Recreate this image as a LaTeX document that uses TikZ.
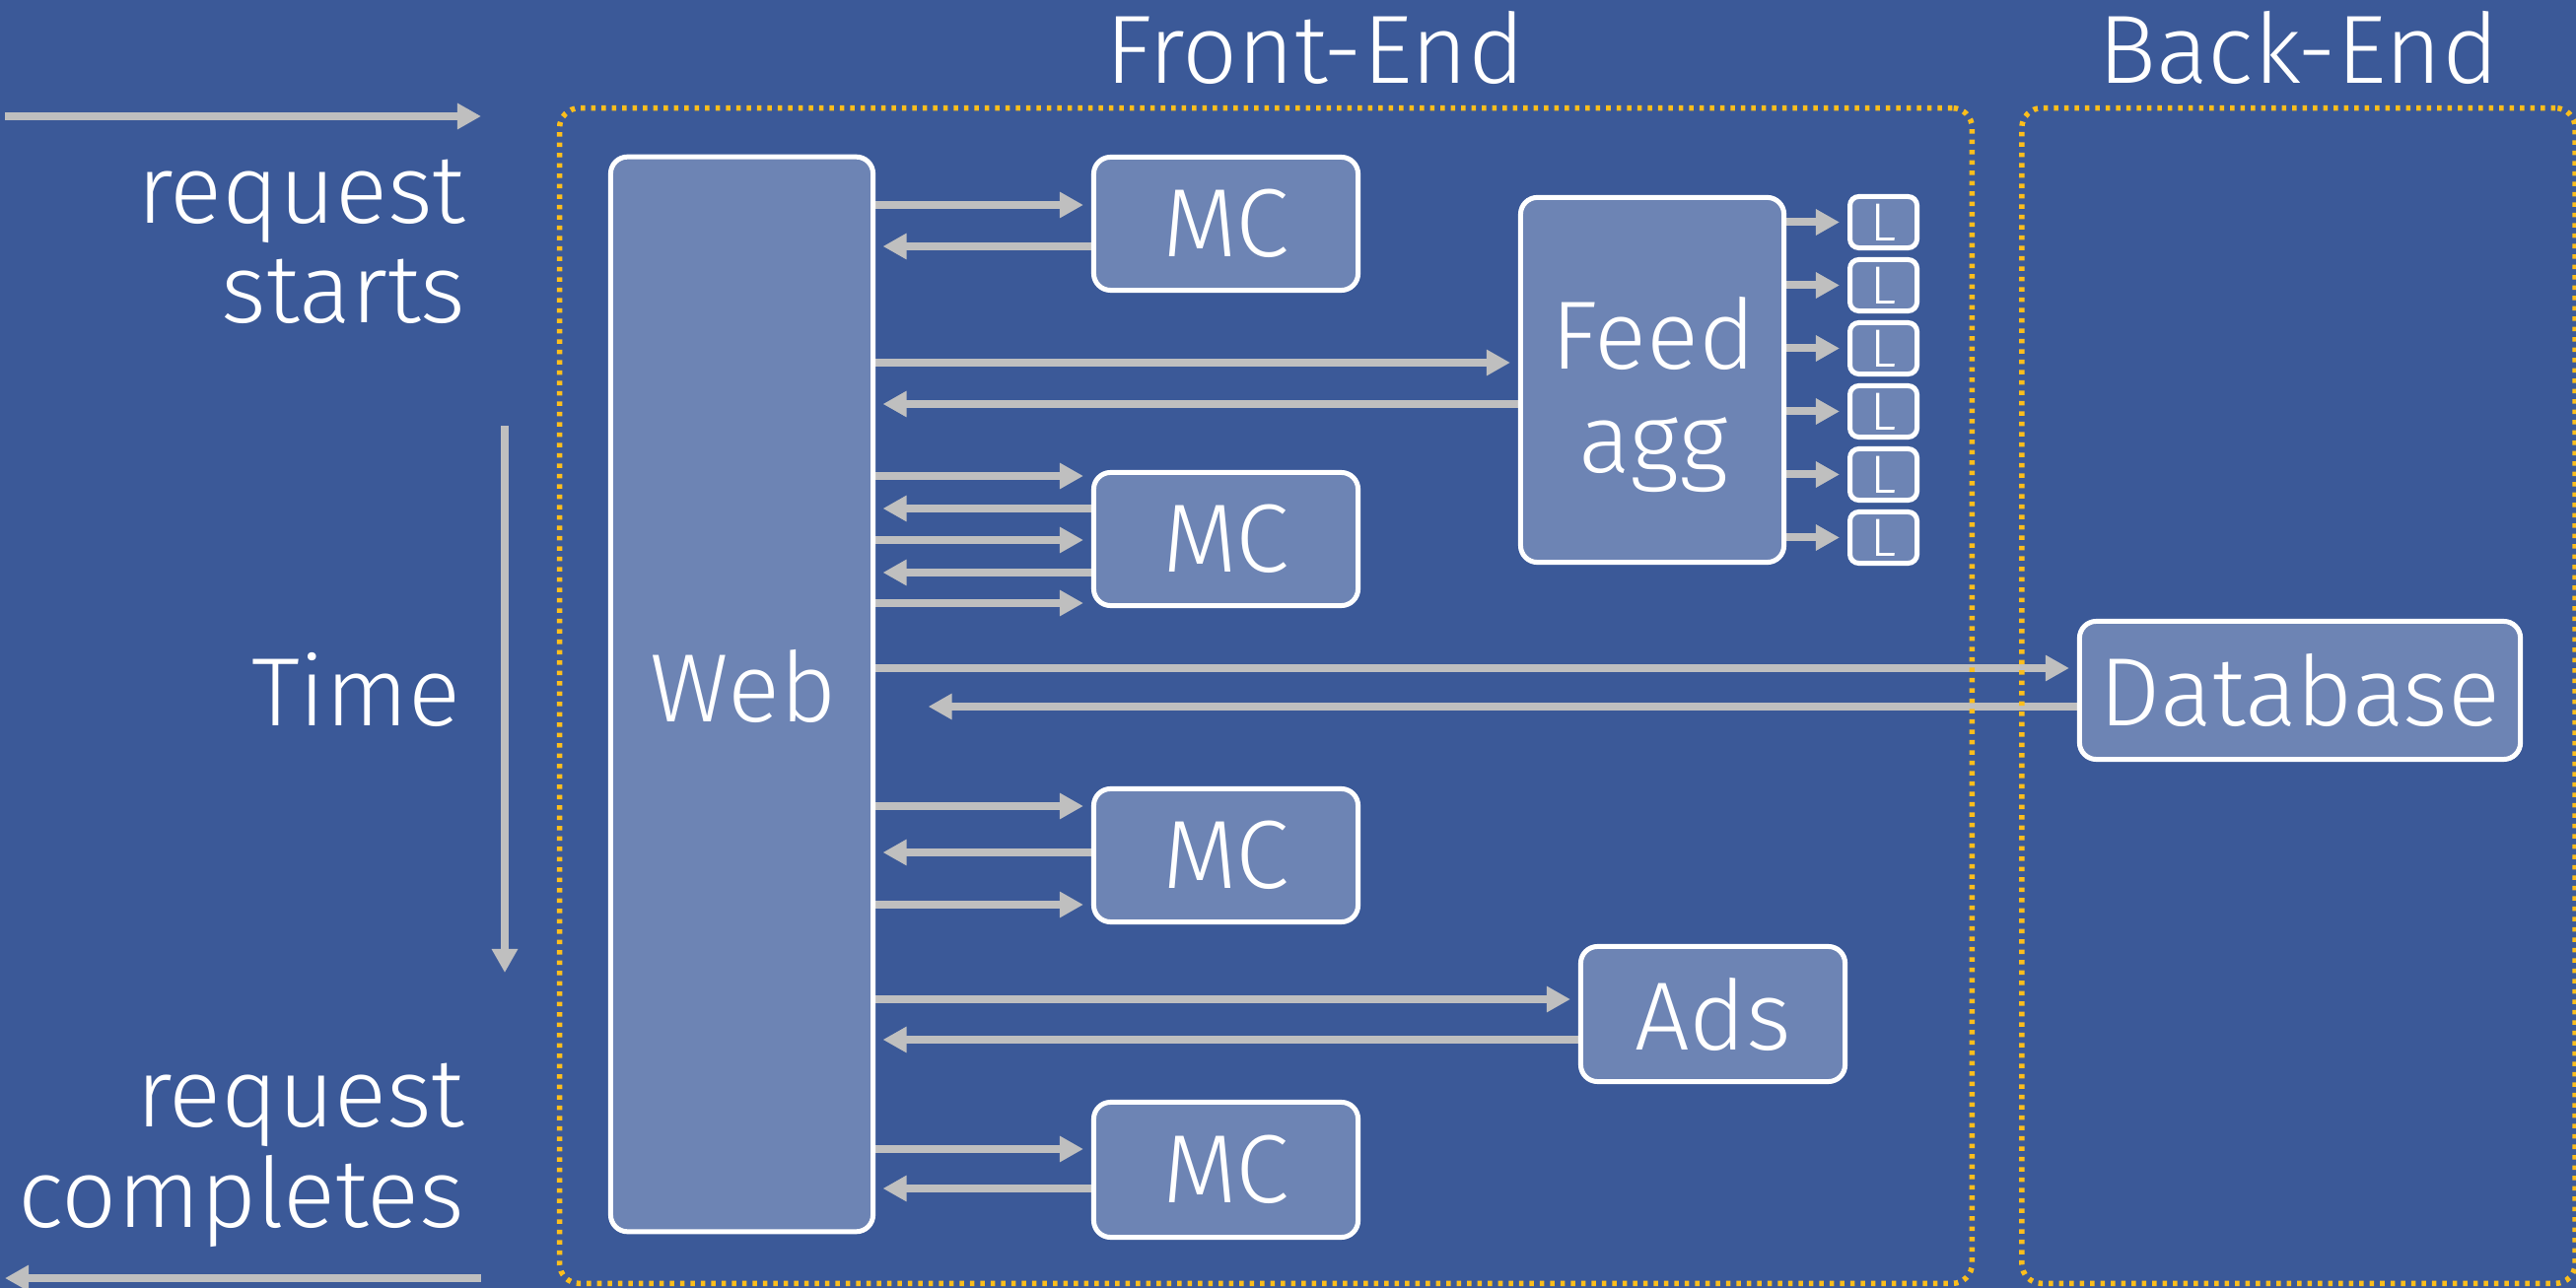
\documentclass[tikz,border=0pt]{standalone}
\usepackage{fontspec}
\setmainfont{Fira Sans Light}
\usetikzlibrary{arrows.meta}
\definecolor{fbblue}{RGB}{59,89,152}
\definecolor{boxblue}{RGB}{109,132,180}
\definecolor{arrgray}{RGB}{191,191,191}
\definecolor{gold}{RGB}{252,190,28}
\pgfdeclarelayer{bglayer}
\pgfdeclarelayer{arrlayer}
\pgfsetlayers{bglayer,arrlayer,main}
\newcommand{\bigfont}{\fontsize{28}{34}\selectfont}
\newcommand{\smallfont}{\fontsize{15.5}{18}\selectfont}
\begin{document}
\begin{tikzpicture}[x=0.01cm,y=-0.01cm,
  box/.style={draw=white, line width=0.05cm, fill=boxblue, rounded corners=0.17cm, text=white, font=\bigfont, inner sep=0pt},
  lbox/.style={box, rounded corners=0.09cm, minimum width=0.68cm, minimum height=0.52cm, font=\smallfont},
  lbl/.style={text=white, font=\bigfont, inner sep=0pt},
  arr/.style={draw=arrgray, line width=0.08cm, -{Triangle[length=0.24cm,width=0.25cm]}, shorten >=0.08cm},
  back/.style={arr, shorten >=0.075cm},
  dotbox/.style={draw=gold, line width=0.055cm, dash pattern=on 0.045cm off 0.06cm, rounded corners=0.2cm, inner sep=0pt, minimum height=11.92cm}]

\useasboundingbox (0,0) rectangle (2613,1307);
\begin{pgfonlayer}{bglayer}
\fill[fbblue] (0,0) rectangle (2613,1307);
\end{pgfonlayer}

% boxes
\node[box, minimum width=2.66cm, minimum height=10.90cm] (web) at (752.5,704.5) {};
\node[lbl, anchor=base] (webt) at (754,732) {Web};
\node[box, minimum width=2.68cm, minimum height=1.35cm] (mc1) at (1243.5,227) {MC};
\node[box, minimum width=2.68cm, minimum height=1.35cm] (mc2) at (1243.5,547) {MC};
\node[box, minimum width=2.68cm, minimum height=1.35cm] (mc3) at (1243.5,868) {MC};
\node[box, minimum width=2.68cm, minimum height=1.37cm] (mc4) at (1243.5,1187) {MC};
\node[box, minimum width=2.67cm, minimum height=3.70cm] (feed) at (1676,385.5) {};
\node[lbl, anchor=base] (feedt1) at (1677,375) {Feed};
\node[lbl, anchor=base] (feedt2) at (1677,480) {agg};
\foreach \i in {0,...,5}
  \node[lbox] (L\i) at (1910.5,{225.5+64*\i}) {L};
\node[box, minimum width=2.68cm, minimum height=1.37cm] (ads) at (1737.5,1029) {Ads};
\node[box, minimum width=4.47cm, minimum height=1.40cm] (db) at (2333,700.5) {Database};

% titles and side labels
\node[lbl, anchor=base] (fet) at (1334,85) {Front-End};
\node[lbl, anchor=base] (bet) at (2331.5,85) {Back-End};
\node[lbl, anchor=base east] (rs1) at (473,227) {request};
\node[lbl, anchor=base east] (rs2) at (473,328) {starts};
\node[lbl, anchor=base east] (time) at (468,737) {Time};
\node[lbl, anchor=base east] (rc1) at (472,1143) {request};
\node[lbl, anchor=base east] (rc2) at (472,1245) {completes};

% dotted groups
\node[dotbox, minimum width=14.32cm] (front) at (1284,706) {};
\node[dotbox, minimum width=5.61cm] (back) at (2331.5,706) {};

\coordinate (tops) at (5,118);
\coordinate (tope) at (488,118);
\coordinate (bots) at (488,1297);
\coordinate (bote) at (5,1297);
\coordinate (times) at (512,432);
\coordinate (timee) at (512,987);

\begin{pgfonlayer}{arrlayer}
\draw[arr, shorten >=0pt] (tops) -- (tope);
\draw[arr, shorten >=0pt] (bots) -- (bote);
\draw[arr, shorten >=0pt] (times) -- (timee);
% MC1
\draw[arr] (web.east |- 0,208) -- (mc1.west |- 0,208);
\draw[back] (mc1.west |- 0,250) -- (web.east |- 0,250);
% Feed
\draw[arr] (web.east |- 0,368) -- (feed.west |- 0,368);
\draw[back] (feed.west |- 0,410) -- (web.east |- 0,410);
\foreach \i in {0,...,5}
  \draw[arr] (feed.east |- L\i.west) -- (L\i.west);
% MC2
\draw[arr] (web.east |- 0,483) -- (mc2.west |- 0,483);
\draw[back] (mc2.west |- 0,516) -- (web.east |- 0,516);
\draw[arr] (web.east |- 0,548) -- (mc2.west |- 0,548);
\draw[back] (mc2.west |- 0,581) -- (web.east |- 0,581);
\draw[arr] (web.east |- 0,612) -- (mc2.west |- 0,612);
% Database
\draw[arr] (web.east |- 0,678) -- (db.west |- 0,678);
\draw[back, shorten >=0.535cm] (db.west |- 0,717) -- (web.east |- 0,717);
% MC3
\draw[arr] (web.east |- 0,818) -- (mc3.west |- 0,818);
\draw[back] (mc3.west |- 0,865) -- (web.east |- 0,865);
\draw[arr] (web.east |- 0,918) -- (mc3.west |- 0,918);
% Ads
\draw[arr] (web.east |- 0,1014) -- (ads.west |- 0,1014);
\draw[back] (ads.west |- 0,1055) -- (web.east |- 0,1055);
% MC4
\draw[arr] (web.east |- 0,1166) -- (mc4.west |- 0,1166);
\draw[back] (mc4.west |- 0,1206) -- (web.east |- 0,1206);
\end{pgfonlayer}
\end{tikzpicture}
\end{document}
